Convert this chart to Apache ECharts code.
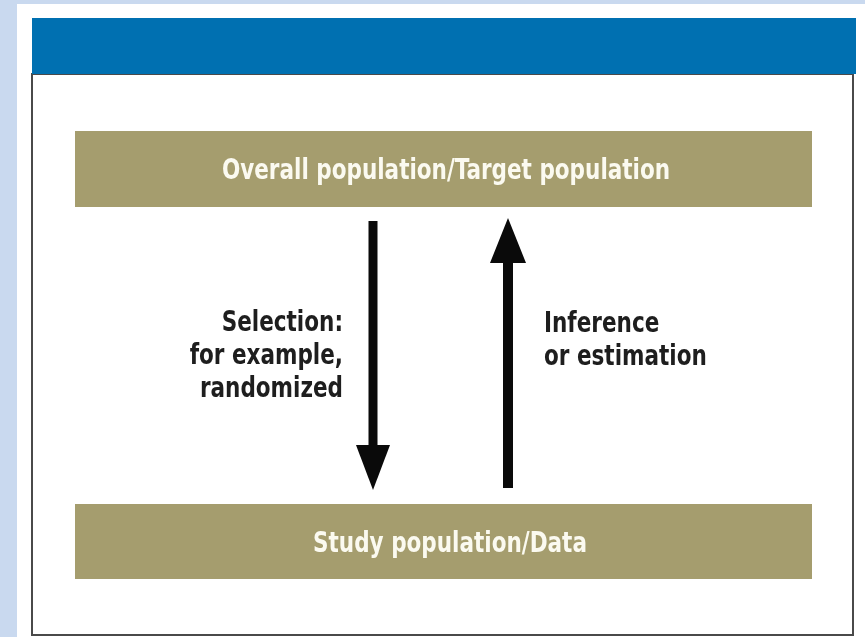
<!DOCTYPE html>
<html>
<head>
<meta charset="utf-8">
<script src="https://cdn.jsdelivr.net/npm/echarts@6/dist/echarts.min.js"></script>
<style>
html,body{margin:0;padding:0;background:#c9d9ef;}
#main{width:865px;height:637px;}
</style>
</head>
<body>
<div id="main"></div>
<script>
// Diagram content
var boxLabels = ['Overall population/Target population', 'Study population/Data'];
var leftLabel = ['Selection:', 'for example,', 'randomized'];
var rightLabel = ['Inference', 'or estimation'];
var arrowDirections = ['down', 'up'];

var FONT = '"Liberation Sans Narrow", "DejaVu Sans Condensed", Arial, sans-serif';
var SX = 0.855;
var chart = echarts.init(document.getElementById('main'), null, {renderer: 'canvas'});

function arrow(cx, yTop, yBot, dir, shaftW, headW, headH) {
  var els = [];
  if (dir === 'down') {
    els.push({type: 'rect', shape: {x: cx - shaftW / 2, y: yTop, width: shaftW, height: yBot - headH - yTop + 2}, style: {fill: '#0a0a0a'}});
    els.push({type: 'polygon', shape: {points: [[cx - headW / 2, yBot - headH], [cx + headW / 2, yBot - headH], [cx, yBot]]}, style: {fill: '#0a0a0a'}});
  } else {
    els.push({type: 'rect', shape: {x: cx - shaftW / 2, y: yTop + headH - 2, width: shaftW, height: yBot - yTop - headH + 2}, style: {fill: '#0a0a0a'}});
    els.push({type: 'polygon', shape: {points: [[cx - headW / 2, yTop + headH], [cx + headW / 2, yTop + headH], [cx, yTop]]}, style: {fill: '#0a0a0a'}});
  }
  return els;
}

function txt(x, y, lines, fill, align) {
  return {type: 'text', x: x, y: y, scaleX: SX,
    style: {text: lines, fill: fill, font: 'bold 28px ' + FONT, lineHeight: 33, textAlign: align, textVerticalAlign: 'middle'}};
}

var elements = [
  {type: 'rect', shape: {x: 17, y: 4, width: 848, height: 633}, style: {fill: '#ffffff'}},
  {type: 'rect', shape: {x: 32, y: 74, width: 821, height: 561}, style: {fill: '#ffffff', stroke: '#4a4a4a', lineWidth: 2}},
  {type: 'rect', shape: {x: 32, y: 18, width: 824, height: 56}, style: {fill: '#0070b1'}},
  {type: 'rect', shape: {x: 75, y: 131, width: 737, height: 76}, style: {fill: '#a59d6e'}},
  {type: 'rect', shape: {x: 75, y: 504, width: 737, height: 75}, style: {fill: '#a59d6e'}},
  txt(446, 172, boxLabels[0], '#fbfaf0', 'center'),
  txt(450, 545, boxLabels[1], '#fbfaf0', 'center'),
  txt(343, 357, leftLabel.join('\n'), '#1e1e1e', 'right'),
  txt(544, 341, rightLabel.join('\n'), '#1e1e1e', 'left')
];
elements = elements.concat(arrow(373, 221, 490, arrowDirections[0], 9, 34, 45));
elements = elements.concat(arrow(508, 218, 488, arrowDirections[1], 10, 36, 45));

chart.setOption({
  backgroundColor: '#c9d9ef',
  animation: false,
  graphic: {elements: elements}
});
</script>
</body>
</html>
